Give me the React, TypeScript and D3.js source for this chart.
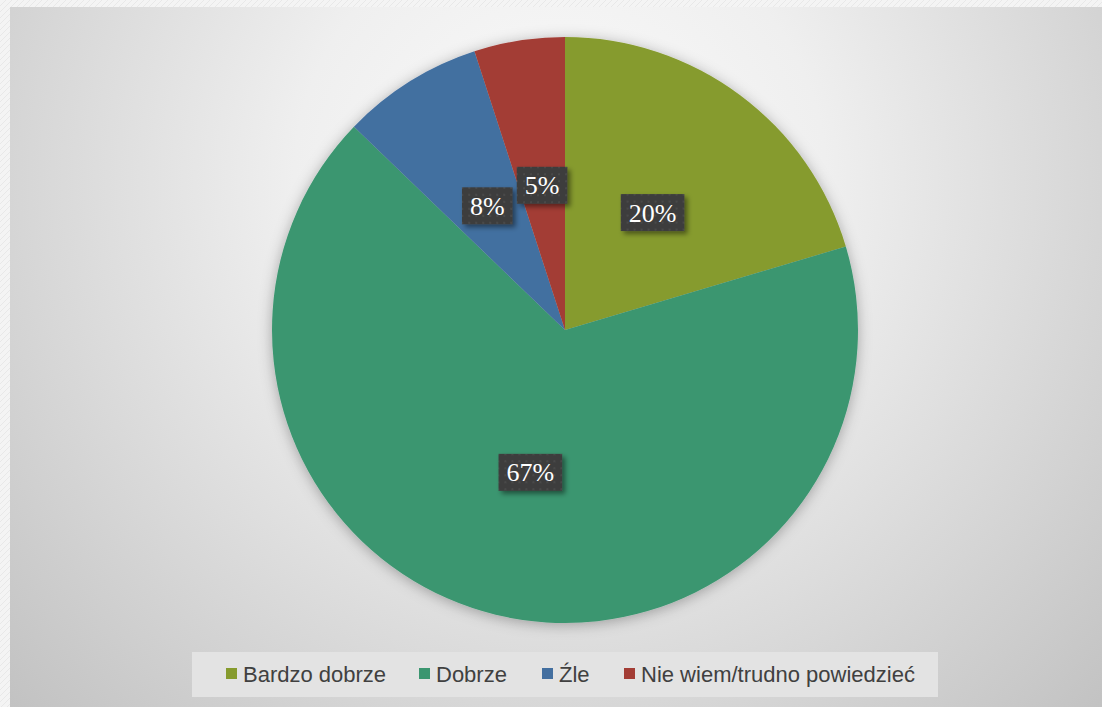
import React from 'react';
import * as d3 from 'd3';

const categories = ['Bardzo dobrze', 'Dobrze', 'Źle', 'Nie wiem/trudno powiedzieć'];
const shares = [20.4, 66.8, 7.8, 5.0];
const colors = ['#869b2d', '#3b9670', '#436fa0', '#a33d35'];

const width = 1102;
const height = 707;
const cx = 565;
const cy = 330;
const radius = 293;

// rough width of the label text (Liberation Serif, 26px)
const labelFont = 26;
const textWidth = (s: string) =>
    s.split('').reduce((w, ch) => w + (ch === '%' ? 0.833 : 0.5), 0) * labelFont;

export default function App() {
    const data = categories.map((c, i) => ({ name: c, value: shares[i], color: colors[i] }));
    const pie = d3.pie<any>().sort(null).value((d) => d.value);
    const arcs = pie(data);
    const arc = d3.arc<any>().innerRadius(0).outerRadius(radius);
    const labelArc = d3.arc<any>().innerRadius(radius / 2).outerRadius(radius / 2);

    // legend layout
    const legendFont = 22;
    const legendX = [226, 419, 542, 624];
    const legendY = 674;

    return (
        <svg width={width} height={height} style={{ position: 'absolute', left: 0, top: 0 }}>
            <defs>
                <pattern id="frame" width="6" height="6" patternUnits="userSpaceOnUse">
                    <rect width="6" height="6" fill="#f4f4f4" />
                    <path d="M0,6 L6,0" stroke="#e8e8e8" strokeWidth="1" />
                </pattern>
                <radialGradient id="bg" gradientUnits="userSpaceOnUse" cx="560" cy="180" r="760">
                    <stop offset="0" stopColor="#fbfbfb" />
                    <stop offset="0.35" stopColor="#efefef" />
                    <stop offset="1" stopColor="#c2c2c2" />
                </radialGradient>
                <pattern id="dots" width="7" height="7" patternUnits="userSpaceOnUse">
                    <rect width="7" height="7" fill="#3d3d3d" />
                    <rect x="2" y="2" width="2" height="2" fill="#4a4a4a" />
                </pattern>
                <filter id="pieShadow" x="-20%" y="-20%" width="140%" height="140%">
                    <feDropShadow dx="0" dy="2" stdDeviation="7" floodColor="#000" floodOpacity="0.3" />
                </filter>
                <filter id="boxShadow" x="-30%" y="-30%" width="160%" height="160%">
                    <feDropShadow dx="3" dy="3" stdDeviation="2.5" floodColor="#000" floodOpacity="0.45" />
                </filter>
            </defs>

            <rect width={width} height={height} fill="url(#frame)" />
            <rect x={10} y={7} width={width - 10} height={height - 7} fill="url(#bg)" />

            <g transform={`translate(${cx},${cy})`}>
                <g filter="url(#pieShadow)">
                    {arcs.map((a, i) => (
                        <path key={i} d={arc(a) as string} fill={a.data.color} />
                    ))}
                </g>
                {arcs.map((a, i) => {
                    const [x, y] = labelArc.centroid(a);
                    const txt = Math.round(a.data.value) + '%';
                    const w = textWidth(txt) + 16;
                    const h = 37;
                    return (
                        <g key={i} transform={`translate(${x},${y})`}>
                            <rect x={-w / 2} y={-h / 2} width={w} height={h} fill="url(#dots)" filter="url(#boxShadow)" />
                            <text
                                textAnchor="middle"
                                dy="0.35em"
                                fill="#ffffff"
                                fontFamily="'Liberation Serif', 'Times New Roman', serif"
                                fontSize={labelFont}
                            >
                                {txt}
                            </text>
                        </g>
                    );
                })}
            </g>

            <rect x={192} y={652} width={746} height={45} fill="#e3e3e3" />
            {data.map((d, i) => (
                <g key={i} transform={`translate(${legendX[i]},${legendY})`}>
                    <rect x={0} y={-6} width={11} height={11} fill={d.color} />
                    <text
                        x={17}
                        dy="0.35em"
                        fill="#404040"
                        fontFamily="'Liberation Sans', Arial, sans-serif"
                        fontSize={legendFont}
                    >
                        {d.name}
                    </text>
                </g>
            ))}
        </svg>
    );
}
